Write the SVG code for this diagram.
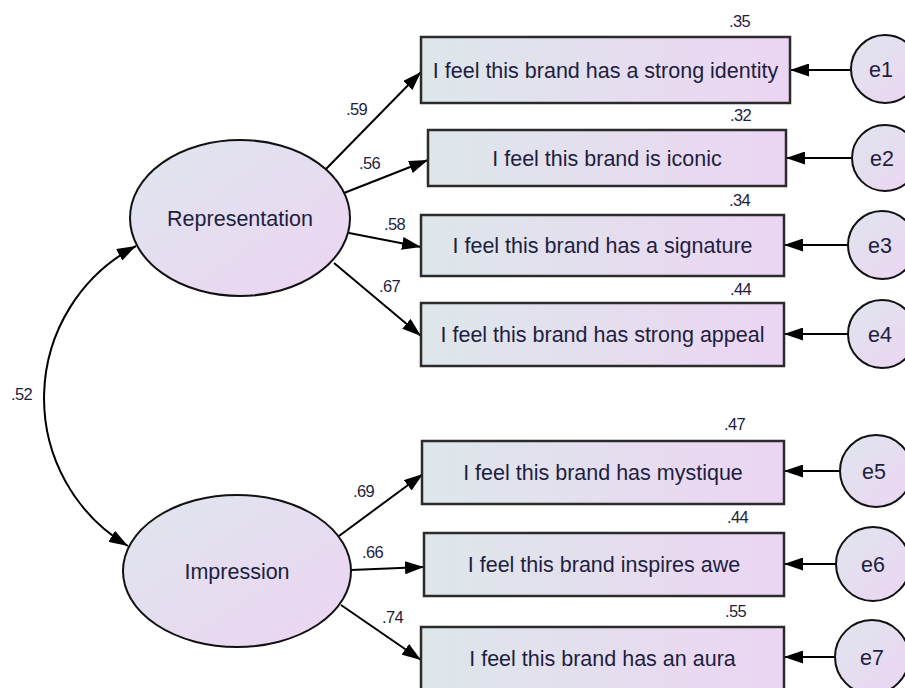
<svg xmlns="http://www.w3.org/2000/svg" width="905" height="688" viewBox="0 0 905 688">
  <defs>
    <linearGradient id="gBox" x1="0" y1="0" x2="1" y2="0">
      <stop offset="0" stop-color="#dde7ea"/>
      <stop offset="1" stop-color="#ecd5f3"/>
    </linearGradient>
    <linearGradient id="gOval" x1="0" y1="0" x2="1" y2="1">
      <stop offset="0" stop-color="#dfe6ee"/>
      <stop offset="1" stop-color="#ecd4f2"/>
    </linearGradient>
    <marker id="arrow" markerUnits="userSpaceOnUse" markerWidth="19" markerHeight="13" refX="19" refY="6.5" orient="auto-start-reverse">
      <path d="M0,0 L19,6.5 L0,13 z" fill="#000"/>
    </marker>
  </defs>
  <style>
    .box { fill: url(#gBox); stroke: #2b2b2b; stroke-width: 2.5; }
    .oval { fill: url(#gOval); stroke: #111; stroke-width: 2; }
    .lbl { font-family: "Liberation Sans", Arial, sans-serif; font-size: 21.5px; fill: #1e1e40; text-anchor: middle; }
    .num { font-family: "Liberation Sans", Arial, sans-serif; font-size: 16.5px; fill: #1e1e40; letter-spacing: -0.6px; }
    .conn path, .conn line { stroke: #000; stroke-width: 2; fill: none; marker-end: url(#arrow); }
  </style>

  <rect width="905" height="688" fill="#fff"/>

  <!-- connectors -->
  <g class="conn" id="connectors">
    <path d="M136,246 A172,172 0 0 0 128,546" marker-start="url(#arrow)"/>
    <line x1="325" y1="170" x2="421" y2="72"/>
    <line x1="344" y1="193" x2="428" y2="160"/>
    <line x1="349" y1="233" x2="421" y2="247"/>
    <line x1="334" y1="263" x2="421" y2="336"/>
    <line x1="339" y1="536" x2="423" y2="474"/>
    <line x1="351" y1="570" x2="424" y2="567"/>
    <line x1="341" y1="605" x2="421" y2="660"/>
    <line x1="851" y1="70" x2="790" y2="70"/>
    <line x1="851" y1="158" x2="786" y2="158"/>
    <line x1="848" y1="245" x2="784" y2="245"/>
    <line x1="848" y1="334" x2="784" y2="334"/>
    <line x1="840" y1="471" x2="784" y2="471"/>
    <line x1="836" y1="564" x2="784" y2="564"/>
    <line x1="835" y1="657" x2="784" y2="657"/>
  </g>

  <!-- latent factors -->
  <g id="representation">
    <ellipse class="oval" cx="240" cy="218" rx="110" ry="78"/>
    <text class="lbl" x="240" y="226">Representation</text>
  </g>
  <g id="impression">
    <ellipse class="oval" cx="237" cy="571" rx="114" ry="76"/>
    <text class="lbl" x="237" y="579">Impression</text>
  </g>

  <!-- observed items -->
  <g id="item1">
    <rect class="box" x="421" y="37" width="369" height="66"/>
    <text class="lbl" x="605.5" y="78">I feel this brand has a strong identity</text>
  </g>
  <g id="item2">
    <rect class="box" x="428" y="130" width="358" height="56"/>
    <text class="lbl" x="607" y="166">I feel this brand is iconic</text>
  </g>
  <g id="item3">
    <rect class="box" x="421" y="215" width="363" height="61"/>
    <text class="lbl" x="602.5" y="253">I feel this brand has a signature</text>
  </g>
  <g id="item4">
    <rect class="box" x="421" y="303" width="363" height="63"/>
    <text class="lbl" x="602.5" y="342">I feel this brand has strong appeal</text>
  </g>
  <g id="item5">
    <rect class="box" x="422" y="441" width="362" height="63"/>
    <text class="lbl" x="603" y="480">I feel this brand has mystique</text>
  </g>
  <g id="item6">
    <rect class="box" x="424" y="533" width="360" height="63"/>
    <text class="lbl" x="604" y="572">I feel this brand inspires awe</text>
  </g>
  <g id="item7">
    <rect class="box" x="421" y="627" width="363" height="63"/>
    <text class="lbl" x="602.5" y="666">I feel this brand has an aura</text>
  </g>

  <!-- error terms -->
  <g id="e1"><circle class="oval" cx="885" cy="69" r="34"/><text class="lbl" x="881" y="77">e1</text></g>
  <g id="e2"><circle class="oval" cx="885" cy="158" r="33"/><text class="lbl" x="882" y="166">e2</text></g>
  <g id="e3"><circle class="oval" cx="882" cy="245" r="34"/><text class="lbl" x="880" y="253">e3</text></g>
  <g id="e4"><circle class="oval" cx="882" cy="334" r="34"/><text class="lbl" x="880" y="342">e4</text></g>
  <g id="e5"><circle class="oval" cx="876" cy="471" r="36"/><text class="lbl" x="874" y="479">e5</text></g>
  <g id="e6"><circle class="oval" cx="873" cy="564" r="37"/><text class="lbl" x="873" y="572">e6</text></g>
  <g id="e7"><circle class="oval" cx="872" cy="657" r="37"/><text class="lbl" x="872" y="665">e7</text></g>

  <!-- estimates -->
  <g id="estimates">
    <text class="num" x="11" y="400">.52</text>
    <text class="num" x="346" y="115">.59</text>
    <text class="num" x="359" y="169">.56</text>
    <text class="num" x="384" y="230">.58</text>
    <text class="num" x="379" y="292">.67</text>
    <text class="num" x="353" y="497">.69</text>
    <text class="num" x="362" y="558">.66</text>
    <text class="num" x="382" y="623">.74</text>
    <text class="num" x="729" y="27">.35</text>
    <text class="num" x="730" y="121">.32</text>
    <text class="num" x="729" y="206">.34</text>
    <text class="num" x="730" y="295">.44</text>
    <text class="num" x="724" y="430">.47</text>
    <text class="num" x="727" y="523">.44</text>
    <text class="num" x="725" y="617">.55</text>
  </g>
</svg>
